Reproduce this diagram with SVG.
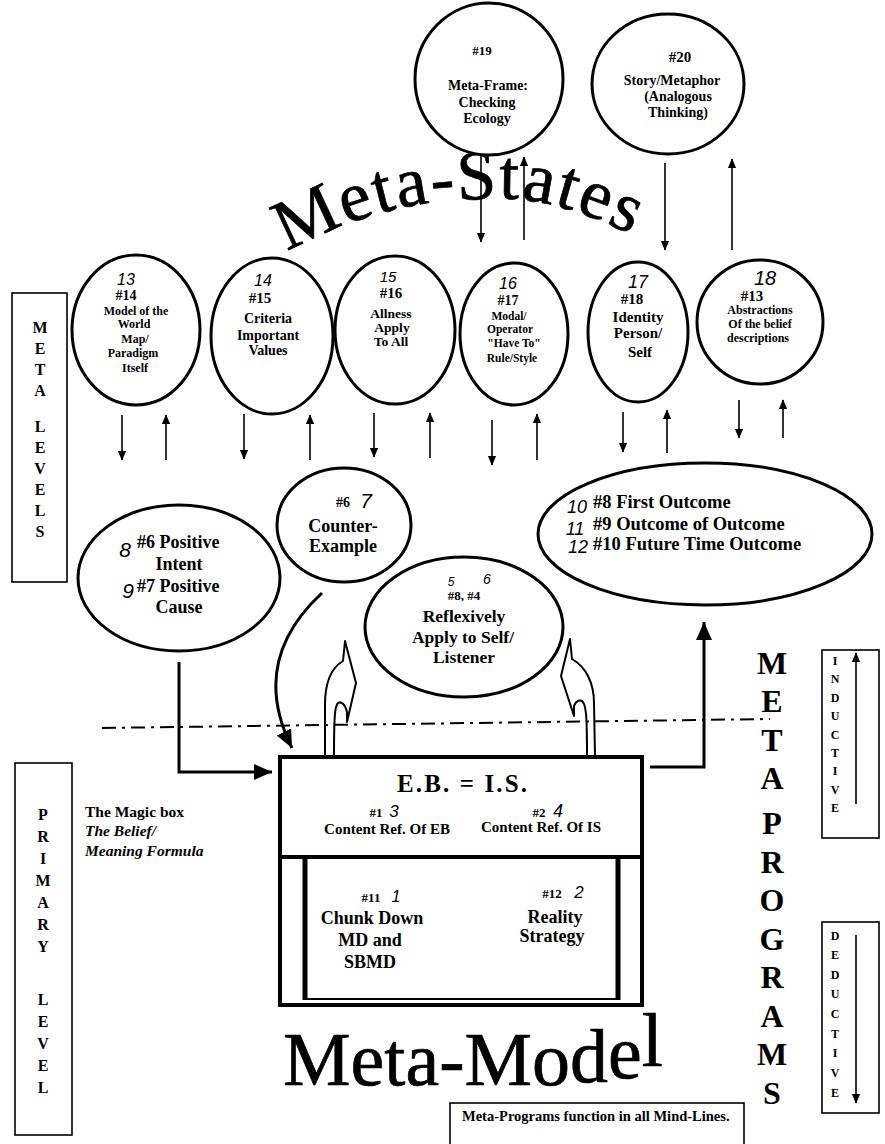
<svg xmlns="http://www.w3.org/2000/svg" width="885" height="1144" viewBox="0 0 885 1144">
<style>
.t{font-family:"Liberation Serif","Times New Roman",serif;font-weight:bold;fill:#000;text-anchor:middle}
.s{text-anchor:start}
.i{font-style:italic}
.hw{font-family:"Liberation Sans",Arial,sans-serif;font-style:italic;font-weight:normal;fill:#000;text-anchor:middle}
.big{font-family:"Liberation Serif","Times New Roman",serif;font-weight:normal;fill:#000;stroke:#000;stroke-width:0.7}
.node{fill:#fff;stroke:#000;stroke-width:3}
.thin{stroke:#000;stroke-width:1.6;fill:none}
.thick{stroke:#000;stroke-width:3;fill:none}
.lbl{fill:#fff;stroke:#000;stroke-width:1.6}
.blk{fill:none;stroke:#000;stroke-width:2;stroke-linejoin:round}
</style>
<defs>
<marker id="ah" markerWidth="10" markerHeight="10" refX="11" refY="5" orient="auto" markerUnits="userSpaceOnUse" viewBox="0 0 12 10"><path d="M0,0 L12,5 L0,10 z" fill="#000"/></marker>
<marker id="ahb" markerWidth="18" markerHeight="16" refX="18" refY="8" orient="auto" markerUnits="userSpaceOnUse" viewBox="0 0 18 16"><path d="M0,0 L18,8 L0,16 z" fill="#000"/></marker>
<path id="arc" d="M287,252 Q360,212 430,203 Q475,198 515,199 Q590,205 690,268"/>
</defs>
<rect width="885" height="1144" fill="#fff"/>

<!-- titles -->
<text class="big" font-size="71" letter-spacing="2"><textPath href="#arc">Meta-States</textPath></text>
<text class="big" font-size="76" x="283" y="1085">Meta-Mo<tspan dy="-3">d</tspan><tspan dy="-4">e</tspan><tspan dy="-12">l</tspan></text>

<!-- side labels -->
<g id="meta-levels">
<rect class="lbl" x="12" y="293" width="55" height="289"/>
<g class="t" font-size="16">
<text x="40" y="333">M</text><text x="40" y="354">E</text><text x="40" y="375">T</text><text x="40" y="396">A</text>
<text x="40" y="432">L</text><text x="40" y="453">E</text><text x="40" y="474">V</text><text x="40" y="495">E</text><text x="40" y="516">L</text><text x="40" y="537">S</text>
</g>
</g>
<g id="primary-level">
<rect class="lbl" x="15" y="763" width="57" height="372"/>
<g class="t" font-size="16">
<text x="43" y="820">P</text><text x="43" y="842">R</text><text x="43" y="864">I</text><text x="43" y="886">M</text><text x="43" y="908">A</text><text x="43" y="930">R</text><text x="43" y="952">Y</text>
<text x="43" y="1005">L</text><text x="43" y="1027">E</text><text x="43" y="1049">V</text><text x="43" y="1071">E</text><text x="43" y="1093">L</text>
</g>
</g>
<g id="magic-box-label" class="t s" font-size="15.5">
<text x="85" y="817">The Magic box</text>
<text class="i" x="85" y="836">The Belief/</text>
<text class="i" x="85" y="856">Meaning Formula</text>
</g>
<g id="meta-programs" class="t" font-size="32">
<text x="772" y="674">M</text><text x="772" y="712">E</text><text x="772" y="751">T</text><text x="772" y="789">A</text>
<text x="772" y="834">P</text><text x="772" y="873">R</text><text x="772" y="911">O</text><text x="772" y="950">G</text><text x="772" y="988">R</text><text x="772" y="1027">A</text><text x="772" y="1065">M</text><text x="772" y="1104">S</text>
</g>
<g id="inductive">
<rect class="lbl" x="822" y="650" width="57" height="188"/>
<g class="t" font-size="12">
<text x="835" y="665">I</text><text x="835" y="683">N</text><text x="835" y="702">D</text><text x="835" y="720">U</text><text x="835" y="739">C</text><text x="835" y="757">T</text><text x="835" y="775">I</text><text x="835" y="794">V</text><text x="835" y="812">E</text>
</g>
<line class="thin" x1="856" y1="804" x2="856" y2="653" marker-end="url(#ah)"/>
</g>
<g id="deductive">
<rect class="lbl" x="822" y="922" width="57" height="191"/>
<g class="t" font-size="12">
<text x="835" y="940">D</text><text x="835" y="959">E</text><text x="835" y="979">D</text><text x="835" y="998">U</text><text x="835" y="1018">C</text><text x="835" y="1038">T</text><text x="835" y="1057">I</text><text x="835" y="1077">V</text><text x="835" y="1097">E</text>
</g>
<line class="thin" x1="856" y1="935" x2="856" y2="1103" marker-end="url(#ah)"/>
</g>
<g id="footnote">
<rect class="lbl" x="450" y="1103" width="294" height="60"/>
<text class="t s" font-size="14.5" x="462" y="1121">Meta-Programs function in all Mind-Lines.</text>
</g>

<!-- connectors -->
<g id="connectors">
<line class="thin" x1="481" y1="155" x2="481" y2="242" marker-end="url(#ah)"/>
<line class="thin" x1="524" y1="240" x2="524" y2="157" marker-end="url(#ah)"/>
<line class="thin" x1="665" y1="163" x2="665" y2="250" marker-end="url(#ah)"/>
<line class="thin" x1="732" y1="250" x2="732" y2="159" marker-end="url(#ah)"/>

<line class="thin" x1="122" y1="415" x2="122" y2="460" marker-end="url(#ah)"/>
<line class="thin" x1="166" y1="460" x2="166" y2="415" marker-end="url(#ah)"/>
<line class="thin" x1="244" y1="414" x2="244" y2="459" marker-end="url(#ah)"/>
<line class="thin" x1="310" y1="460" x2="310" y2="415" marker-end="url(#ah)"/>
<line class="thin" x1="374" y1="413" x2="374" y2="457" marker-end="url(#ah)"/>
<line class="thin" x1="430" y1="458" x2="430" y2="413" marker-end="url(#ah)"/>
<line class="thin" x1="492" y1="420" x2="492" y2="465" marker-end="url(#ah)"/>
<line class="thin" x1="537" y1="460" x2="537" y2="414" marker-end="url(#ah)"/>
<line class="thin" x1="623" y1="412" x2="623" y2="452" marker-end="url(#ah)"/>
<line class="thin" x1="667" y1="453" x2="667" y2="410" marker-end="url(#ah)"/>
<line class="thin" x1="739" y1="400" x2="739" y2="438" marker-end="url(#ah)"/>
<line class="thin" x1="783" y1="438" x2="783" y2="400" marker-end="url(#ah)"/>

<line x1="102" y1="728" x2="770" y2="719" stroke="#000" stroke-width="2" stroke-dasharray="14 6 3 6"/>

<path class="thick" d="M179,662 L179,772 L272,772" marker-end="url(#ahb)"/>
<path class="thick" d="M322,593 C282,630 258,680 292,748" marker-end="url(#ahb)"/>
<path class="thick" d="M650,767 L704,767 L704,622" marker-end="url(#ahb)"/>

<path class="blk" d="M325,757 L325,705 C325,683 331,668 343,661 L345,641 L356,683 L347,722 L347,712 C345,704 341,701 338,703 C335,706 334,714 334,757"/>
<path class="blk" d="M595,757 L594,703 C594,683 586,667 572,659 L570,639 L561,676 L574,716 L574,706 C577,699 582,699 584,704 C586,709 587,716 587,757"/>
</g>

<!-- top nodes -->
<g id="n19">
<ellipse class="node" cx="489" cy="79" rx="74" ry="76"/>
<text class="t" font-size="13" x="482" y="55">#19</text>
<text class="t" font-size="14" x="488" y="90">Meta-Frame:</text>
<text class="t" font-size="14" x="487" y="107">Checking</text>
<text class="t" font-size="14" x="487" y="123">Ecology</text>
</g>
<g id="n20">
<ellipse class="node" cx="668" cy="84" rx="76" ry="70"/>
<text class="t" font-size="15" x="680" y="62">#20</text>
<text class="t" font-size="14" x="672" y="85">Story/Metaphor</text>
<text class="t" font-size="14" x="678" y="101">(Analogous</text>
<text class="t" font-size="14" x="678" y="117">Thinking)</text>
</g>

<!-- meta-state row -->
<g id="n14">
<ellipse class="node" cx="136" cy="330" rx="64" ry="75"/>
<text class="hw" font-size="16" x="126" y="285">13</text>
<text class="t" font-size="14" x="126" y="300">#14</text>
<text class="t" font-size="12" x="136" y="315">Model of the</text>
<text class="t" font-size="12" x="134" y="328">World</text>
<text class="t" font-size="12" x="135" y="343">Map/</text>
<text class="t" font-size="12" x="133" y="357">Paradigm</text>
<text class="t" font-size="12" x="135" y="372">Itself</text>
</g>
<g id="n15">
<ellipse class="node" cx="272" cy="336" rx="61" ry="78"/>
<text class="hw" font-size="16" x="263" y="286">14</text>
<text class="t" font-size="15" x="260" y="303">#15</text>
<text class="t" font-size="14" x="268" y="323">Criteria</text>
<text class="t" font-size="14" x="268" y="340">Important</text>
<text class="t" font-size="14" x="268" y="355">Values</text>
</g>
<g id="n16">
<ellipse class="node" cx="395" cy="330" rx="60" ry="74"/>
<text class="hw" font-size="15" x="388" y="282">15</text>
<text class="t" font-size="15" x="391" y="298">#16</text>
<text class="t" font-size="13.5" x="391" y="318">Allness</text>
<text class="t" font-size="13.5" x="392" y="332">Apply</text>
<text class="t" font-size="13.5" x="391" y="346">To All</text>
</g>
<g id="n17">
<ellipse class="node" cx="514" cy="334" rx="54" ry="71"/>
<text class="hw" font-size="16" x="508" y="289">16</text>
<text class="t" font-size="14" x="508" y="305">#17</text>
<text class="t" font-size="11.5" x="509" y="320">Modal/</text>
<text class="t" font-size="11.5" x="510" y="333">Operator</text>
<text class="t" font-size="11.5" x="514" y="347">"Have To"</text>
<text class="t" font-size="11.5" x="512" y="362">Rule/Style</text>
</g>
<g id="n18">
<ellipse class="node" cx="638" cy="332" rx="50" ry="70"/>
<text class="hw" font-size="18" x="638" y="288">17</text>
<text class="t" font-size="15" x="632" y="304">#18</text>
<text class="t" font-size="15" x="638" y="322">Identity</text>
<text class="t" font-size="15" x="638" y="338">Person/</text>
<text class="t" font-size="15" x="640" y="357">Self</text>
</g>
<g id="n13">
<ellipse class="node" cx="760" cy="322" rx="63" ry="62"/>
<text class="hw" font-size="20" x="765" y="285">18</text>
<text class="t" font-size="15" x="752" y="301">#13</text>
<text class="t" font-size="12" x="760" y="314">Abstractions</text>
<text class="t" font-size="12" x="760" y="328">Of the belief</text>
<text class="t" font-size="12" x="758" y="342">descriptions</text>
</g>

<!-- lower row -->
<g id="n6">
<ellipse class="node" cx="179" cy="578" rx="101" ry="73"/>
<text class="hw" font-size="21" x="125" y="557">8</text>
<text class="t s" font-size="18" x="137" y="548">#6 Positive</text>
<text class="t" font-size="18" x="179" y="570">Intent</text>
<text class="hw" font-size="21" x="128" y="598">9</text>
<text class="t s" font-size="18" x="137" y="592">#7 Positive</text>
<text class="t" font-size="18" x="179" y="613">Cause</text>
</g>
<g id="n7">
<ellipse class="node" cx="344" cy="525" rx="67" ry="57"/>
<text class="t" font-size="14" x="343" y="507">#6</text>
<text class="hw" font-size="21" x="366" y="508">7</text>
<text class="t" font-size="18" x="343" y="532">Counter-</text>
<text class="t" font-size="18" x="343" y="552">Example</text>
</g>
<g id="n5">
<ellipse class="node" cx="464" cy="627" rx="99" ry="70"/>
<text class="hw" font-size="12" x="451" y="586">5</text>
<text class="hw" font-size="14" x="487" y="584">6</text>
<text class="t" font-size="13" x="464" y="600">#8, #4</text>
<text class="t" font-size="17.5" x="464" y="622">Reflexively</text>
<text class="t" font-size="17.5" x="463" y="643">Apply to Self/</text>
<text class="t" font-size="17.5" x="464" y="663">Listener</text>
</g>
<g id="n8">
<ellipse class="node" cx="705" cy="534" rx="167" ry="71"/>
<text class="hw" font-size="18" x="577" y="513">10</text>
<text class="t s" font-size="18.5" x="593" y="508">#8 First Outcome</text>
<text class="hw" font-size="18" x="575" y="535">11</text>
<text class="t s" font-size="18.5" x="593" y="530">#9 Outcome of Outcome</text>
<text class="hw" font-size="18" x="578" y="553">12</text>
<text class="t s" font-size="18.5" x="593" y="550">#10 Future Time Outcome</text>
</g>

<!-- magic box -->
<g id="magic-box">
<rect x="280" y="757" width="362" height="248" fill="#fff" stroke="#000" stroke-width="4"/>
<line x1="280" y1="857" x2="642" y2="857" stroke="#000" stroke-width="4"/>
<line x1="305" y1="857" x2="305" y2="1000" stroke="#000" stroke-width="5"/>
<line x1="618" y1="857" x2="618" y2="1000" stroke="#000" stroke-width="5"/>
<line x1="305" y1="999" x2="618" y2="999" stroke="#000" stroke-width="2"/>
<text class="t" font-size="25" x="462" y="792" textLength="130">E.B. = I.S.</text>
<text class="t" font-size="13" x="376" y="817">#1</text>
<text class="hw" font-size="17" x="394" y="817">3</text>
<text class="t" font-size="15" x="387" y="834">Content Ref. Of EB</text>
<text class="t" font-size="13" x="539" y="817">#2</text>
<text class="hw" font-size="18" x="558" y="817">4</text>
<text class="t" font-size="15" x="541" y="832">Content Ref. Of IS</text>
<text class="t" font-size="13" x="371" y="902">#11</text>
<text class="hw" font-size="16" x="396" y="902">1</text>
<text class="t" font-size="18" x="372" y="924">Chunk Down</text>
<text class="t" font-size="18" x="370" y="946">MD and</text>
<text class="t" font-size="18" x="370" y="968">SBMD</text>
<text class="t" font-size="13" x="552" y="898">#12</text>
<text class="hw" font-size="17" x="579" y="898">2</text>
<text class="t" font-size="18" x="555" y="923">Reality</text>
<text class="t" font-size="18" x="552" y="942">Strategy</text>
</g>
</svg>
